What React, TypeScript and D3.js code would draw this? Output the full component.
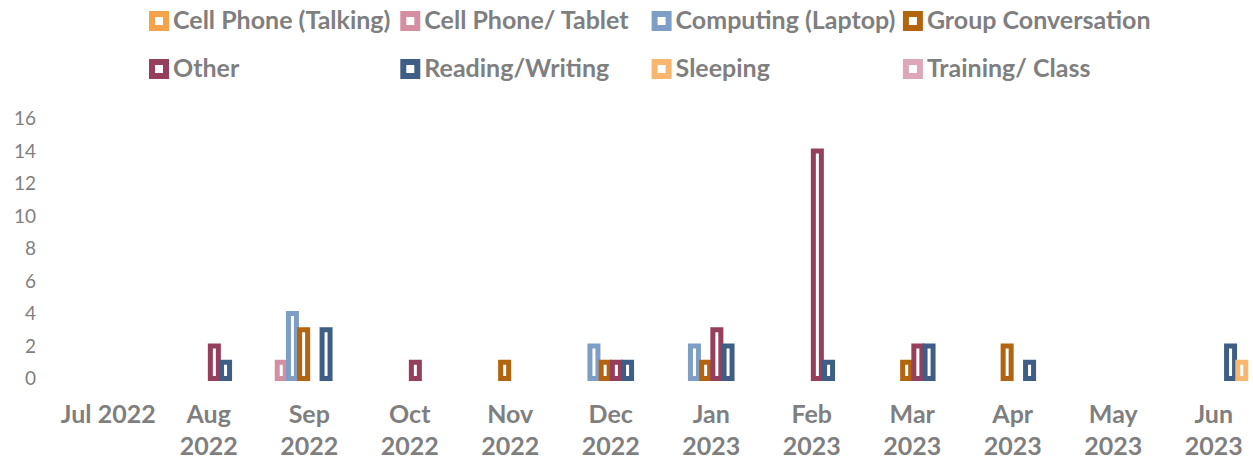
import * as d3 from "d3";
import React, { useEffect, useRef } from "react";

// Months on the x axis (line 1 / line 2 of each label)
const months = ["Jul 2022", "Aug 2022", "Sep 2022", "Oct 2022", "Nov 2022", "Dec 2022",
  "Jan 2023", "Feb 2023", "Mar 2023", "Apr 2023", "May 2023", "Jun 2023"];

const seriesNames = ["Cell Phone (Talking)", "Cell Phone/ Tablet", "Computing (Laptop)",
  "Group Conversation", "Other", "Reading/Writing", "Sleeping", "Training/ Class"];

const seriesColors = ["#F5A34A", "#D48FA3", "#7F9EC6", "#B3640F", "#953F5D", "#3F5E86", "#F8B66F", "#DDA6B9"];

// values per series, one per month
const cellPhoneTalking = [0, 0, 0, 0, 0, 0, 0, 0, 0, 0, 0, 0];
const cellPhoneTablet = [0, 0, 1, 0, 0, 0, 0, 0, 0, 0, 0, 0];
const computingLaptop = [0, 0, 4, 0, 0, 2, 2, 0, 0, 0, 0, 0];
const groupConversation = [0, 0, 3, 0, 1, 1, 1, 0, 1, 2, 0, 0];
const other = [0, 2, 0, 1, 0, 1, 3, 14, 2, 0, 0, 0];
const readingWriting = [0, 1, 3, 0, 0, 1, 2, 1, 2, 1, 0, 2];
const sleeping = [0, 0, 0, 0, 0, 0, 0, 0, 0, 0, 0, 1];
const trainingClass = [0, 0, 0, 0, 0, 0, 0, 0, 0, 0, 0, 0];

const seriesValues = [cellPhoneTalking, cellPhoneTablet, computingLaptop, groupConversation,
  other, readingWriting, sleeping, trainingClass];

const yTicks = [0, 2, 4, 6, 8, 10, 12, 14, 16];

export default function App() {
  const svgRef = useRef<SVGSVGElement>(null);

  useEffect(() => {
    const svg = d3.select(svgRef.current);
    svg.selectAll("*").remove();

    const textColor = "#7F7F7F";
    const font = "Lato, 'DejaVu Sans', sans-serif";

    const x0 = d3.scaleBand<string>()
      .domain(months)
      .range([58, 1264])
      .paddingInner(0.108)
      .paddingOuter(0.054);

    const x1 = d3.scaleBand<string>()
      .domain(seriesNames)
      .range([0, x0.bandwidth()]);

    const y = d3.scaleLinear()
      .domain([0, 16])
      .range([378.5, 118.5]);

    // y tick labels (no axis line)
    svg.append("g")
      .selectAll("text")
      .data(yTicks)
      .join("text")
      .attr("x", 36)
      .attr("y", d => y(d))
      .attr("dy", "0.35em")
      .attr("text-anchor", "end")
      .style("font-family", font)
      .style("font-size", "19px")
      .style("fill", textColor)
      .text(d => d);

    // x labels
    const xl = svg.append("g");
    months.forEach(m => {
      const cx = x0(m)! + x0.bandwidth() / 2;
      const [mon, yr] = m.split(" ");
      const t = xl.append("text")
        .attr("x", cx)
        .attr("text-anchor", "middle")
        .style("font-family", font)
        .style("font-size", "25px")
        .style("font-weight", "bold")
        .style("fill", textColor);
      if (m === "Jul 2022") {
        t.attr("y", 423).text(m);
      } else {
        t.append("tspan").attr("x", cx).attr("y", 423).text(mon);
        t.append("tspan").attr("x", cx).attr("y", 455).text(yr);
      }
    });

    // bars
    const barW = 8;
    const stroke = 5;
    const bars = svg.append("g");
    months.forEach((m, i) => {
      seriesNames.forEach((s, j) => {
        const v = seriesValues[j][i];
        if (!v) return;
        bars.append("rect")
          .attr("x", x0(m)! + x1(s)! + (x1.bandwidth() - barW) / 2)
          .attr("y", y(v))
          .attr("width", barW)
          .attr("height", y(0) - y(v))
          .attr("fill", "#fff")
          .attr("stroke", seriesColors[j])
          .attr("stroke-width", stroke);
      });
    });

    // legend, 4 columns x 2 rows
    const legend = svg.append("g");
    seriesNames.forEach((s, j) => {
      const col = j % 4;
      const row = Math.floor(j / 4);
      const lx = 149 + col * 251.3;
      const ly = 21 + row * 48;
      legend.append("rect")
        .attr("x", lx + 3)
        .attr("y", ly - 7)
        .attr("width", 14)
        .attr("height", 14)
        .attr("fill", "#fff")
        .attr("stroke", seriesColors[j])
        .attr("stroke-width", 6);
      legend.append("text")
        .attr("x", lx + 24)
        .attr("y", ly + 8)
        .style("font-family", font)
        .style("font-size", "25px")
        .style("font-weight", "bold")
        .style("fill", textColor)
        .text(s);
    });
  }, []);

  return (
    <div style={{ position: "absolute", left: 0, top: 0 }}>
      <svg ref={svgRef} width={1253} height={465} style={{ display: "block", background: "#fff" }}></svg>
    </div>
  );
}
